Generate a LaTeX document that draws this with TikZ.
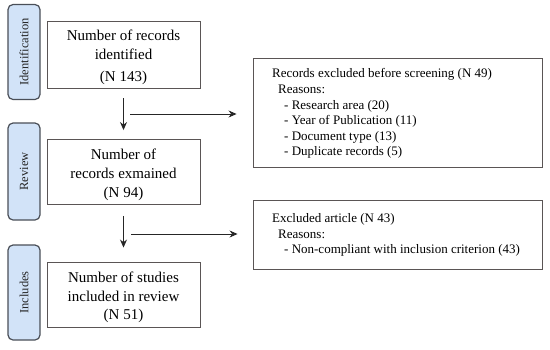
\documentclass[tikz,border=0pt]{standalone}
\usepackage{fontspec}
\setmainfont{Liberation Serif}
\usetikzlibrary{arrows.meta}
\definecolor{sidefill}{HTML}{D2E3F8}
\definecolor{sidedraw}{HTML}{4A4F58}
\definecolor{boxdraw}{HTML}{5A5555}
\begin{document}
\begin{tikzpicture}[x=1pt,y=-1pt,
  side/.style={draw=sidedraw,line width=1.2pt,fill=sidefill,rounded corners=5pt,
    minimum width=32pt,inner sep=0pt},
  sidelabel/.style={rotate=90,font=\fontsize{12.5}{14}\selectfont,text=black!85},
  mainbox/.style={draw=boxdraw,line width=0.9pt,minimum width=153pt,inner sep=0pt},
  maintext/.style={align=center,font=\fontsize{15}{19}\selectfont,inner sep=0pt,yshift=-3pt},
  exclbox/.style={draw=boxdraw,line width=0.9pt,minimum width=289pt,inner sep=0pt},
  excltext/.style={anchor=north west,inner sep=0pt,font=\fontsize{13}{15.6}\selectfont,align=left},
  arr/.style={-{Stealth[length=8pt,width=7pt]},line width=0.9pt,draw=black!85}]
\useasboundingbox (0,0) rectangle (550,349);
% side labels
\node[side,minimum height=95pt] (s1) at (24,52) {};
\node[sidelabel] at (s1) {Identification};
\node[side,minimum height=97pt] (s2) at (24,171.5) {};
\node[sidelabel] at (s2) {Review};
\node[side,minimum height=95pt] (s3) at (24,292.5) {};
\node[sidelabel] at (s3) {Includes};
% main boxes
\node[mainbox,minimum height=67pt] (b1) at (123.5,54.5) {};
\node[maintext] at (b1) {Number of records\\identified\\[3pt](N 143)};
\node[mainbox,minimum height=65pt] (b2) at (123.5,172) {};
\node[maintext] at (b2) {Number of\\records exmained\\(N 94)};
\node[mainbox,minimum height=65pt] (b3) at (123.5,294.5) {};
\node[maintext] at (b3) {Number of studies\\included in review\\[-1pt](N 51)};
% exclusion boxes
\node[exclbox,minimum height=109pt] (r1) at (397.5,112.5) {};
\node[excltext] (t1) at (272,68.5)
  {Records excluded before screening (N 49)\\
   \hspace*{6pt}Reasons:\\
   \hspace*{12pt}- Research area (20)\\
   \hspace*{12pt}- Year of Publication (11)\\
   \hspace*{12pt}- Document type (13)\\
   \hspace*{12pt}- Duplicate records (5)};
\node[exclbox,minimum height=69pt] (r2) at (397.5,234.5) {};
\node[excltext] (t2) at (272,213.5)
  {Excluded article (N 43)\\
   \hspace*{6pt}Reasons:\\
   \hspace*{12pt}- Non-compliant with inclusion criterion (43)};
% arrows
\draw[arr,shorten <=10pt,shorten >=9pt] (b1.south) -- (b2.north);
\draw[arr,shorten <=11pt,shorten >=14pt] (b2.south) -- (b3.north);
\coordinate (h1) at (130,114);
\coordinate (h2) at (131,234);
\draw[arr,shorten >=16pt] (h1) -- (h1 -| r1.west);
\draw[arr,shorten >=15pt] (h2) -- (h2 -| r2.west);
\end{tikzpicture}
\end{document}
